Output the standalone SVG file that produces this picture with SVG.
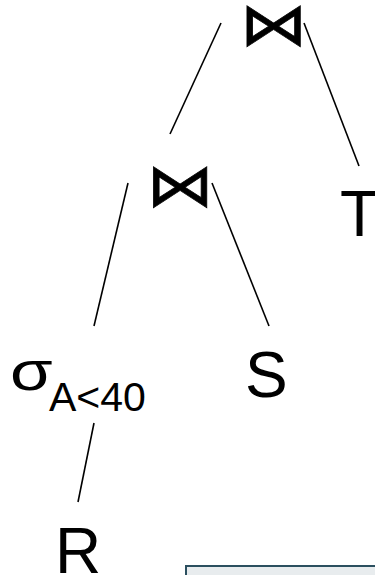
<svg xmlns="http://www.w3.org/2000/svg" width="375" height="575" viewBox="0 0 375 575">
<style>
.big{font-family:"Liberation Sans",Arial,sans-serif;font-size:64px;fill:#000}
.sub{font-family:"Liberation Sans",Arial,sans-serif;font-size:41px;fill:#000}
.join{font-family:"DejaVu Sans",sans-serif;font-size:68px;fill:#000;stroke:#000;stroke-width:0.8}
.edge{stroke:#000;stroke-width:1.6;fill:none}
</style>
<rect width="375" height="575" fill="#fff"/>
<g id="edges">
<line class="edge" x1="221" y1="23" x2="170" y2="134"/>
<line class="edge" x1="304" y1="23" x2="359" y2="166"/>
<line class="edge" x1="128" y1="183" x2="94" y2="326"/>
<line class="edge" x1="212" y1="183" x2="269" y2="326"/>
<line class="edge" x1="94" y1="423" x2="78" y2="502"/>
</g>
<g id="join1" transform="translate(274,45) scale(1,0.88)"><text class="join" x="0" y="0" text-anchor="middle">⋈</text></g>
<g id="join2" transform="translate(180.5,206) scale(1,0.88)"><text class="join" x="0" y="0" text-anchor="middle">⋈</text></g>
<g id="T"><text class="big" x="340" y="236">T</text></g>
<g id="select"><text class="big" x="0" y="0" font-size="48" transform="translate(10,390) scale(1.08,0.86)">σ</text><text class="sub" x="49" y="411">A&lt;40</text></g>
<g id="S"><text class="big" x="245" y="397">S</text></g>
<g id="R"><text class="big" x="55" y="573">R</text></g>
<g id="box"><rect x="186" y="566" width="200" height="20" fill="#e8ecee" stroke="#2b4f5f" stroke-width="2"/></g>
</svg>
